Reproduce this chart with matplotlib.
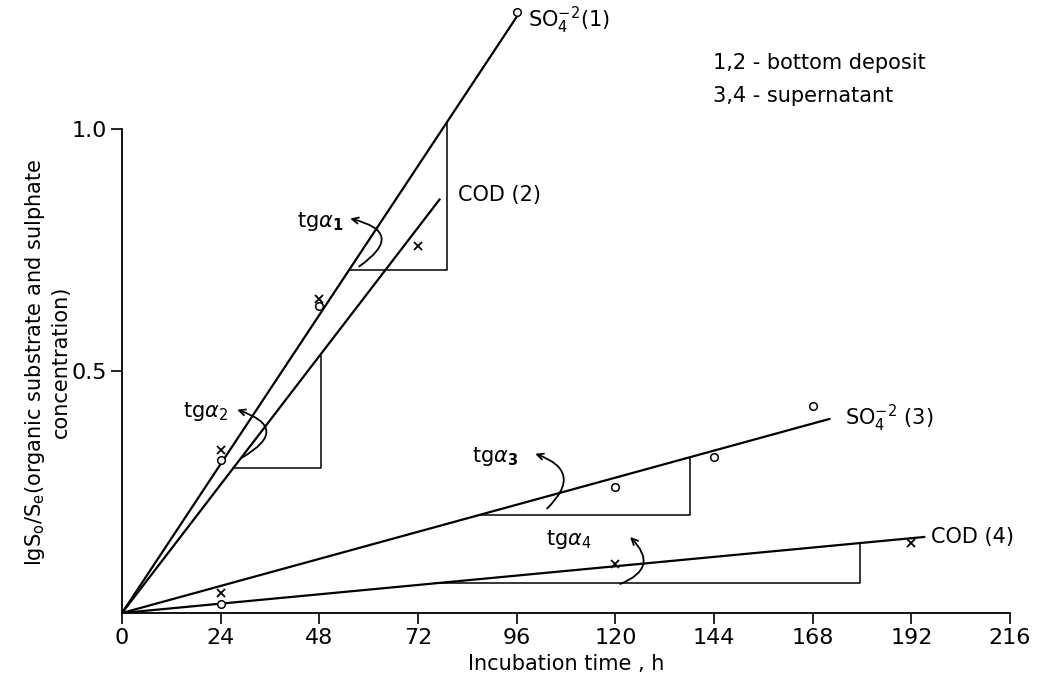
import matplotlib.pyplot as plt
import numpy as np

# measured points (incubation time, h  ->  lg So/Se)
time_so4_1 = [24, 48, 96]
so4_1 = [0.316, 0.634, 1.242]
time_cod_2 = [24, 48, 72]
cod_2 = [0.336, 0.649, 0.758]
time_so4_3 = [24, 120, 144, 168]
so4_3 = [0.018, 0.26, 0.322, 0.427]
time_cod_4 = [24, 120, 192]
cod_4 = [0.041, 0.101, 0.144]

# fitted lines through origin: slope and last hour drawn
slopes = [0.01283, 0.01106, 0.00233, 0.000805]
line_end = [96.8, 77.4, 172.3, 195.4]
# slope triangles (hours where the legs start / end)
tri_start = [55.2, 27.0, 87.1, 76.2]
tri_end = [79.1, 48.4, 138.2, 179.6]

xticks = [0, 24, 48, 72, 96, 120, 144, 168, 192, 216]
yticks = [0.5, 1.0]

plt.rcParams['font.family'] = ['DejaVu Sans']

fig = plt.figure(figsize=(10.38, 6.88), dpi=100)
ax = fig.add_axes([122/1038, 1 - 613/688, (1010 - 122)/1038, 605/688])
ax.set_xlim(0, 216)
ax.set_ylim(0, 1.25)

for k, xe in zip(slopes, line_end):
    xx = np.array([0, xe])
    ax.plot(xx, k * xx, color='black', lw=1.6, solid_capstyle='butt')

# slope triangles
for k, x0, x1 in zip(slopes, tri_start, tri_end):
    ax.plot([x0, x1, x1], [k * x0, k * x0, k * x1], color='black', lw=1.1)

mk = dict(linestyle='none', color='black', clip_on=False)
ax.plot(time_so4_1, so4_1, marker='o', mfc='white', ms=5.5, mew=1.1, **mk)
ax.plot(time_cod_2, cod_2, marker='x', ms=5.5, mew=1.3, **mk)
ax.plot(time_so4_3, so4_3, marker='o', mfc='white', ms=5.5, mew=1.1, **mk)
ax.plot(time_cod_4, cod_4, marker='x', ms=5.5, mew=1.3, **mk)

# curved arrows
arcs = [((57.7, 0.716), (55.5, 0.815), 1.1),
        ((29.2, 0.321), (28.0, 0.420), 1.1),
        ((103.4, 0.216), (100.5, 0.329), 0.8),
        ((121.2, 0.060), (123.6, 0.157), 0.75)]
for start, tip, rad in arcs:
    ax.annotate('', xy=tip, xytext=start,
                arrowprops=dict(arrowstyle='->,head_length=0.45,head_width=0.22',
                                color='black', lw=1.3, shrinkA=0, shrinkB=0,
                                connectionstyle='arc3,rad=%s' % rad))

fs = 15
ax.text(48.2, 0.808, r'tg$\alpha_\mathbf{1}$', fontsize=fs, ha='center', va='center')
ax.text(20.2, 0.417, r'tg$\alpha_2$', fontsize=fs, ha='center', va='center')
ax.text(90.8, 0.323, r'tg$\alpha_\mathbf{3}$', fontsize=fs, ha='center', va='center')
ax.text(108.8, 0.151, r'tg$\alpha_4$', fontsize=fs, ha='center', va='center')

ax.text(98.8, 1.225, r'SO$_4^{-2}$(1)', fontsize=fs, ha='left', va='center')
ax.text(81.8, 0.863, 'COD (2)', fontsize=fs, ha='left', va='center')
ax.text(175.9, 0.402, r'SO$_4^{-2}$ (3)', fontsize=fs, ha='left', va='center')
ax.text(196.8, 0.157, 'COD (4)', fontsize=fs, ha='left', va='center')

fig.text(713/1038, 1 - 63/688, '1,2 - bottom deposit', fontsize=fs, va='center')
fig.text(713/1038, 1 - 96/688, '3,4 - supernatant', fontsize=fs, va='center')

ax.spines['top'].set_visible(False)
ax.spines['right'].set_visible(False)
ax.spines['left'].set_bounds(0, 1.0)
for s in ['left', 'bottom']:
    ax.spines[s].set_linewidth(1.3)

ax.set_xticks(xticks)
ax.set_xticklabels([str(t) for t in xticks], fontsize=16)
ax.set_yticks(yticks)
ax.set_yticklabels(['0.5', '1.0'], fontsize=16)
ax.tick_params(axis='both', direction='out', length=8, width=1.2, pad=3)

ax.set_xlabel('Incubation time , h', fontsize=fs, labelpad=4)
fig.text(47/1038, 1 - 362/688,
         'lgS$_\\mathrm{o}$/S$_\\mathrm{e}$(organic substrate and sulphate\nconcentration)',
         fontsize=fs, rotation=90, ha='center', va='center', multialignment='center')

fig.savefig('out.png', dpi=100, facecolor='white')
